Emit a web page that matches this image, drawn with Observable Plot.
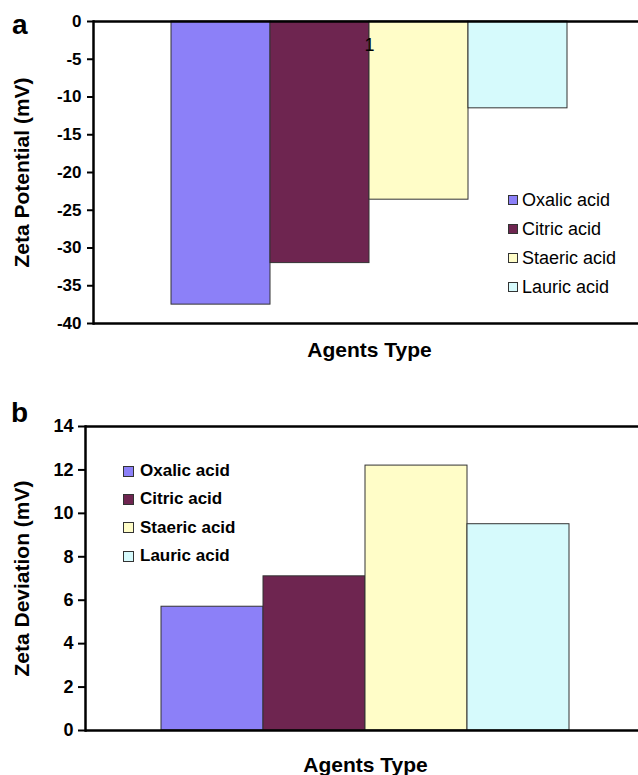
<!DOCTYPE html>
<html>
<head>
<meta charset="utf-8">
<script src="https://cdn.jsdelivr.net/npm/d3@7"></script>
<script src="https://cdn.jsdelivr.net/npm/@observablehq/plot@0.6"></script>
<style>
html, body { margin: 0; padding: 0; background: #fff; overflow: hidden; }
body { width: 638px; height: 775px; font-family: Arial, "Liberation Sans", sans-serif; }
#wrap { position: relative; width: 638px; height: 775px; overflow: hidden; }
#wrap svg { max-width: none !important; display: block; }
.panel { position: absolute; left: 0; }
.tag { position: absolute; font: bold 28px Arial, "Liberation Sans", sans-serif; line-height: 1; }
.lg { position: absolute; }
.lg .item { display: flex; align-items: center; white-space: nowrap; color: #000; }
.lg .sw { box-sizing: border-box; border: 1px solid #333; flex: none; }
</style>
</head>
<body>
<div id="wrap">
  <div class="panel" id="pa" style="top:0"></div>
  <div class="panel" id="pb" style="top:380px"></div>
  <div class="tag" style="left:12px;top:11px">a</div>
  <div class="tag" style="left:11px;top:399px">b</div>
  <div class="lg" id="lga"></div>
  <div class="lg" id="lgb"></div>
</div>
<script>
// ---- data ----
const agents = ["Oxalic acid", "Citric acid", "Staeric acid", "Lauric acid"];
const agentColors = ["#8C80F8", "#6E2550", "#FFFDC8", "#D6FAFC"];
const zetaPotential = [-37.5, -32.0, -23.6, -11.5];
const zetaDeviation = [5.7, 7.1, 12.2, 9.5];
const potentialTicks = [0, -5, -10, -15, -20, -25, -30, -35, -40];
const deviationTicks = [0, 2, 4, 6, 8, 10, 12, 14];
const potentialDomain = [-40, 0];
const deviationDomain = [0, 14];
const categoryLabel = "1";
const xTitle = "Agents Type";
const yTitleA = "Zeta Potential (mV)";
const yTitleB = "Zeta Deviation (mV)";

const dataA = agents.map((a, i) => ({agent: a, value: zetaPotential[i]}));
const dataB = agents.map((a, i) => ({agent: a, value: zetaDeviation[i]}));

const font = 'Arial, "Liberation Sans", sans-serif';

const plotA = Plot.plot({
  width: 660, height: 380,
  marginLeft: 93, marginRight: 15, marginTop: 21, marginBottom: 57,
  style: {fontFamily: font, color: "#000", background: "transparent", overflow: "visible"},
  x: {domain: agents, paddingInner: 0, paddingOuter: 0.774, axis: null},
  y: {domain: potentialDomain, axis: null},
  color: {domain: agents, range: agentColors},
  marks: [
    Plot.barY(dataA, {x: "agent", y: "value", fill: "agent", stroke: "#333", strokeWidth: 1}),
    Plot.text([categoryLabel], {frameAnchor: "top", lineAnchor: "middle", dy: 24, fontSize: 18, fill: "#000"}),
    Plot.axisY({ticks: potentialTicks, tickFormat: d => String(d), tickSize: 6, tickPadding: 6,
      fontSize: 17, fontWeight: "bold", stroke: "#000", strokeWidth: 2, label: null}),
    Plot.ruleY(potentialDomain, {stroke: "#000", strokeWidth: 2.5}),
    Plot.frame({anchor: "left", stroke: "#000", strokeWidth: 2.5}),
    Plot.text([xTitle], {frameAnchor: "bottom", lineAnchor: "middle", dy: 27, fontSize: 21, fontWeight: "bold", fill: "#000"}),
    Plot.text([yTitleA], {frameAnchor: "left", dx: -71, rotate: -90, textAnchor: "middle", lineAnchor: "middle", fontSize: 21, fontWeight: "bold", fill: "#000"})
  ]
});
document.getElementById("pa").appendChild(plotA);

const plotB = Plot.plot({
  width: 660, height: 395,
  marginLeft: 85, marginRight: 15, marginTop: 46, marginBottom: 45,
  style: {fontFamily: font, color: "#000", background: "transparent", overflow: "visible"},
  x: {domain: agents, paddingInner: 0, paddingOuter: 0.745, axis: null},
  y: {domain: deviationDomain, axis: null},
  color: {domain: agents, range: agentColors},
  marks: [
    Plot.barY(dataB, {x: "agent", y: "value", fill: "agent", stroke: "#333", strokeWidth: 1}),
    Plot.axisY({ticks: deviationTicks, tickFormat: d => String(d), tickSize: 7, tickPadding: 5,
      fontSize: 18, fontWeight: "bold", stroke: "#000", strokeWidth: 2, label: null}),
    Plot.ruleY(deviationDomain, {stroke: "#000", strokeWidth: 2.5}),
    Plot.frame({anchor: "left", stroke: "#000", strokeWidth: 2.5}),
    Plot.text([xTitle], {frameAnchor: "bottom", lineAnchor: "middle", dy: 35, fontSize: 21, fontWeight: "bold", fill: "#000"}),
    Plot.text([yTitleB], {frameAnchor: "left", dx: -63, rotate: -90, textAnchor: "middle", lineAnchor: "middle", fontSize: 21, fontWeight: "bold", fill: "#000"})
  ]
});
document.getElementById("pb").appendChild(plotB);

// ---- legends (HTML) ----
function legend(id, left, top, rowH, sw, gap, fontCss) {
  const el = document.getElementById(id);
  el.style.left = left + "px";
  el.style.top = top + "px";
  agents.forEach((a, i) => {
    const item = document.createElement("div");
    item.className = "item";
    item.style.height = rowH + "px";
    item.style.font = fontCss;
    const s = document.createElement("span");
    s.className = "sw";
    s.style.width = sw + "px";
    s.style.height = sw + "px";
    s.style.marginRight = gap + "px";
    s.style.background = agentColors[i];
    const t = document.createElement("span");
    t.textContent = a;
    item.appendChild(s);
    item.appendChild(t);
    el.appendChild(item);
  });
}
legend("lga", 508, 185.5, 29, 10, 4, '18px Arial, "Liberation Sans", sans-serif');
legend("lgb", 123, 457, 28.3, 11, 6, 'bold 17px Arial, "Liberation Sans", sans-serif');
</script>
</body>
</html>
